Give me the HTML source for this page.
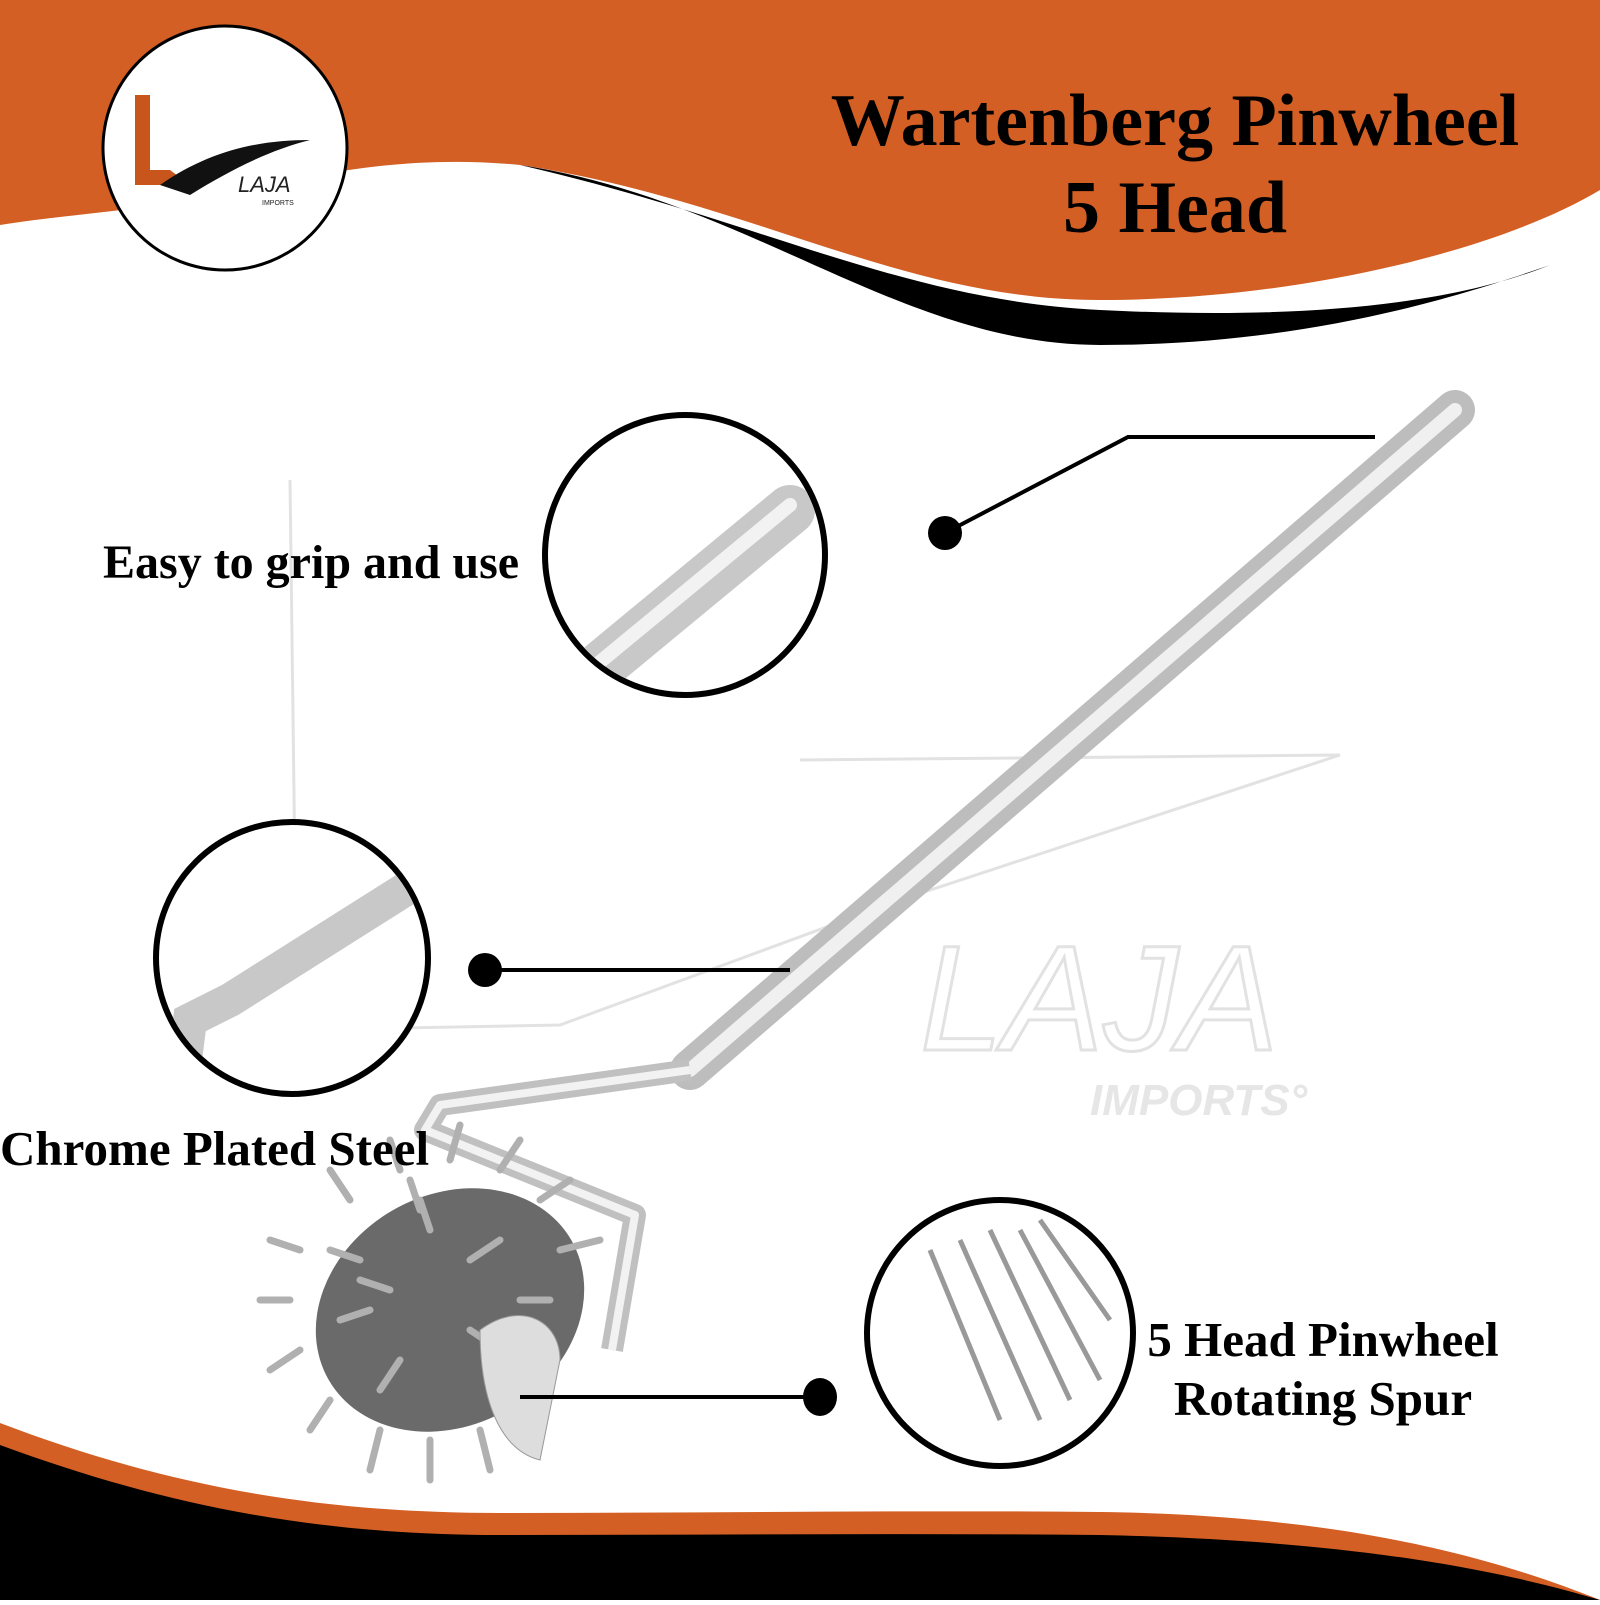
<!DOCTYPE html>
<html><head><style>
body{margin:0;width:1600px;height:1600px;overflow:hidden;background:#fff;font-family:"Liberation Serif",serif}
</style></head><body>
<svg width="1600" height="1600" viewBox="0 0 1600 1600" xmlns="http://www.w3.org/2000/svg">
<defs>
<linearGradient id="steel" x1="0" y1="0" x2="1" y2="1">
<stop offset="0" stop-color="#f7f7f7"/><stop offset="0.5" stop-color="#c4c4c4"/><stop offset="1" stop-color="#ececec"/>
</linearGradient>
</defs>
<path d="M0,0 H1600 V190 C1500,250 1300,300 1100,300 C900,300 750,200 520,165 C420,155 330,170 250,190 C150,210 60,215 0,225 Z" fill="#d35f24"/>
<path d="M520,165 C750,200 900,345 1100,345 C1300,345 1450,300 1550,265 C1450,305 1300,320 1100,310 C900,300 760,220 520,165 Z" fill="#000"/>
<g fill="none" stroke="#e2e2e2" stroke-width="3">
<path d="M290,480 L297,1030 L560,1025 L900,900 M297,1030 L300,900 M800,760 L1340,755 L900,900"/>
<text x="920" y="1050" font-size="150" font-style="italic" font-family="Liberation Sans">LAJA</text>
</g>
<text x="1090" y="1115" font-size="44" font-style="italic" font-weight="bold" font-family="Liberation Sans" fill="#e6e6e6">IMPORTS°</text>
<path d="M0,1423 C150,1480 300,1513 500,1513 C700,1513 900,1510 1100,1512 C1350,1515 1500,1560 1600,1600 V1600 H0 Z" fill="#d35f24"/>
<path d="M0,1445 C150,1500 300,1535 500,1535 C700,1535 900,1533 1100,1535 C1350,1540 1500,1570 1600,1600 H0 Z" fill="#000"/>
<!-- handle -->
<line x1="1455" y1="410" x2="690" y2="1070" stroke="#bdbdbd" stroke-width="40" stroke-linecap="round"/>
<line x1="1455" y1="410" x2="690" y2="1070" stroke="#f0f0f0" stroke-width="14" stroke-linecap="round"/>
<path d="M690,1070 L440,1105 L425,1130 L635,1215 L612,1350" fill="none" stroke="#c0c0c0" stroke-width="22" stroke-linejoin="round"/>
<path d="M690,1070 L440,1105 L425,1130 L635,1215 L612,1350" fill="none" stroke="#f2f2f2" stroke-width="8" stroke-linejoin="round"/>
<!-- spike roller -->
<ellipse cx="450" cy="1310" rx="140" ry="115" fill="#6a6a6a" transform="rotate(-30 450 1310)"/>
<g stroke="#b0b0b0" stroke-width="7" stroke-linecap="round">
<path d="M300,1250 L270,1240 M290,1300 L260,1300 M300,1350 L270,1370 M330,1400 L310,1430 M380,1430 L370,1470 M430,1440 L430,1480 M480,1430 L490,1470 M350,1200 L330,1170 M400,1170 L390,1140 M450,1160 L460,1125 M500,1170 L520,1140 M540,1200 L570,1180 M560,1250 L600,1240"/>
<path d="M360,1260 L330,1250 M370,1310 L340,1320 M400,1360 L380,1390 M430,1230 L420,1200 M470,1260 L500,1240 M470,1330 L500,1350 M520,1300 L550,1300 M420,1210 L410,1180 M390,1290 L360,1280"/>
</g>
<path d="M480,1330 C520,1300 560,1320 560,1360 L540,1460 C500,1450 480,1400 480,1330 Z" fill="#ddd" stroke="#999"/>
<!-- circles -->
<circle cx="225" cy="148" r="122" fill="#fff" stroke="#000" stroke-width="3"/>
<path d="M135,95 V185 H190 L170,170 H150 V95 Z" fill="#c8561c"/>
<path d="M160,185 C210,150 260,140 310,140 C270,150 230,170 190,195 Z" fill="#111"/>
<text x="238" y="192" font-size="22" font-style="italic" font-family="Liberation Sans" fill="#222">LAJA</text>
<text x="262" y="205" font-size="7" font-family="Liberation Sans" fill="#222">IMPORTS</text>
<circle cx="685" cy="555" r="140" fill="#fff" stroke="#000" stroke-width="6"/>
<clipPath id="c1"><circle cx="685" cy="555" r="137"/></clipPath>
<line x1="790" y1="510" x2="560" y2="700" stroke="#c8c8c8" stroke-width="50" stroke-linecap="round" clip-path="url(#c1)"/>
<line x1="790" y1="505" x2="560" y2="695" stroke="#f2f2f2" stroke-width="14" stroke-linecap="round" clip-path="url(#c1)"/>
<circle cx="292" cy="958" r="136" fill="#fff" stroke="#000" stroke-width="6"/>
<clipPath id="c2"><circle cx="292" cy="958" r="133"/></clipPath>
<path d="M420,880 L230,1000 L190,1020 L180,1100" fill="none" stroke="#c8c8c8" stroke-width="34" clip-path="url(#c2)"/>
<circle cx="1000" cy="1333" r="133" fill="#fff" stroke="#000" stroke-width="6"/>
<g stroke="#999" stroke-width="5"><path d="M930,1250 L1000,1420 M960,1240 L1040,1420 M990,1230 L1070,1400 M1020,1230 L1100,1380 M1040,1220 L1110,1320"/></g>
<g stroke="#000" stroke-width="4" fill="none">
<path d="M945,533 L1128,437 L1375,437"/>
<path d="M485,970 L790,970"/>
<path d="M820,1397 L520,1397"/>
</g>
<circle cx="945" cy="533" r="17"/>
<circle cx="485" cy="970" r="17"/>
<ellipse cx="820" cy="1397" rx="17" ry="19"/>
<g font-weight="bold" fill="#000" font-family="Liberation Serif">
<text x="1175" y="145" font-size="74" text-anchor="middle">Wartenberg Pinwheel</text>
<text x="1175" y="232" font-size="74" text-anchor="middle">5 Head</text>
<text x="103" y="578" font-size="48">Easy to grip and use</text>
<text x="0" y="1165" font-size="49">Chrome Plated Steel</text>
<text x="1323" y="1356" font-size="49" text-anchor="middle">5 Head Pinwheel</text>
<text x="1323" y="1415" font-size="49" text-anchor="middle">Rotating Spur</text>
</g>
</svg>
</body></html>
